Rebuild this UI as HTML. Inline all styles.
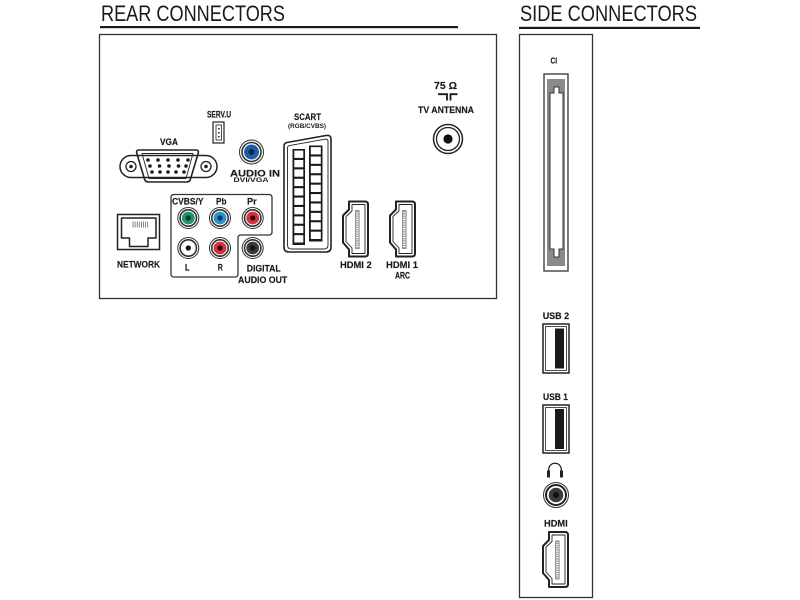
<!DOCTYPE html>
<html><head><meta charset="utf-8"><style>
html,body{margin:0;padding:0;background:#fff;width:800px;height:600px;overflow:hidden}
svg{display:block}
text{font-family:"Liberation Sans",sans-serif;fill:#1a1a1a}
.b{font-weight:bold;font-size:9.5px;stroke:#1a1a1a;stroke-width:0.15px}
.s{font-weight:bold;font-size:6.2px}
.o{fill:none;stroke:#222;stroke-linejoin:round}
</style></head><body>
<svg width="800" height="600" viewBox="0 0 800 600" xmlns="http://www.w3.org/2000/svg">
<defs>
<g id="hdmi">
  <path class="o" stroke-width="2" fill="#fff" d="M6,0 L22,0 Q25,0 25,3 L25,52 Q25,55 22,55 L6,55 L6,48 L0,41 L0,14 L6,8 Z"/>
  <path class="o" stroke-width="0.9" d="M9,3 L22,3 L22,52 L9,52 L9,46.5 L3,40 L3,15 L9,9.5 Z"/>
  <rect x="12.5" y="9" width="3.6" height="38" fill="#fff" stroke="#777" stroke-width="0.8"/>
  <line x1="14.3" y1="9.5" x2="14.3" y2="46.5" stroke="#888" stroke-width="3" stroke-dasharray="0.8 1"/>
</g>
</defs>

<!-- titles -->
<text x="101" y="21" font-size="22" textLength="184" lengthAdjust="spacingAndGlyphs">REAR CONNECTORS</text>
<rect x="100" y="26" width="358" height="2.2" fill="#1a1a1a"/>
<text x="520" y="21" font-size="22" textLength="177" lengthAdjust="spacingAndGlyphs">SIDE CONNECTORS</text>
<rect x="519" y="26.8" width="181" height="2.2" fill="#1a1a1a"/>

<!-- boxes -->
<rect x="99.5" y="34.5" width="397" height="264" fill="none" stroke="#333" stroke-width="1.3"/>
<rect x="519.5" y="34.5" width="73" height="563" fill="none" stroke="#333" stroke-width="1.3"/>

<!-- VGA -->
<text class="b" x="160" y="145" textLength="18" lengthAdjust="spacingAndGlyphs">VGA</text>
<rect x="120" y="155.5" width="97" height="22" rx="11" fill="#fff" stroke="#222" stroke-width="1.5"/>
<circle cx="131" cy="166.5" r="5" fill="#fff" stroke="#222" stroke-width="1.3"/>
<circle cx="131" cy="166.5" r="1.8" fill="#222"/>
<circle cx="206" cy="166.5" r="5" fill="#fff" stroke="#222" stroke-width="1.3"/>
<circle cx="206" cy="166.5" r="1.8" fill="#222"/>
<path class="o" fill="#fff" stroke-width="1.6" d="M139,150 L196,150 Q199,150 198.3,153 L190.5,179 Q189.7,182 186.5,182 L148.5,182 Q145.3,182 144.5,179 L136.7,153 Q136,150 139,150 Z"/>
<path class="o" stroke-width="0.9" d="M142,153.5 L193,153.5 L186,178.5 L149,178.5 Z"/>
<g fill="#1a1a1a">
<circle cx="148" cy="160" r="1.8"/><circle cx="158" cy="160" r="1.8"/><circle cx="168" cy="160" r="1.8"/><circle cx="178" cy="160" r="1.8"/><circle cx="188" cy="160" r="1.8"/>
<circle cx="150" cy="166" r="1.8"/><circle cx="159.5" cy="166" r="1.8"/><circle cx="169" cy="166" r="1.8"/><circle cx="178.5" cy="166" r="1.8"/><circle cx="186" cy="166" r="1.8"/>
<circle cx="152" cy="172" r="1.8"/><circle cx="160" cy="172" r="1.8"/><circle cx="168" cy="172" r="1.8"/><circle cx="176" cy="172" r="1.8"/><circle cx="184" cy="172" r="1.8"/>
</g>

<!-- SERV.U -->
<text class="b" x="207" y="117.5" textLength="24" lengthAdjust="spacingAndGlyphs">SERV.U</text>
<rect x="213" y="122" width="11" height="21" fill="#fff" stroke="#222" stroke-width="1.2"/>
<rect x="216" y="125" width="5.5" height="15" fill="none" stroke="#222" stroke-width="0.8"/>
<g fill="#222"><rect x="218" y="128" width="1.6" height="1.4"/><rect x="218" y="132" width="1.6" height="1.4"/><rect x="218" y="136" width="1.6" height="1.4"/></g>

<!-- AUDIO IN -->
<circle cx="251.5" cy="152" r="12" fill="#fff" stroke="#333" stroke-width="1"/>
<circle cx="251.5" cy="152" r="9.5" fill="#fff" stroke="#333" stroke-width="1.6"/>
<circle cx="251.5" cy="152" r="7.5" fill="#1d5ea8"/>
<circle cx="251.5" cy="152" r="3" fill="#0d2347"/>
<text class="b" x="230" y="176.6" textLength="50" lengthAdjust="spacingAndGlyphs">AUDIO IN</text>
<text class="s" x="233.5" y="182.2" textLength="35" lengthAdjust="spacingAndGlyphs">DVI/VGA</text>

<!-- SCART -->
<text class="b" x="294" y="120" textLength="27" lengthAdjust="spacingAndGlyphs">SCART</text>
<text class="s" x="288" y="128" textLength="38" lengthAdjust="spacingAndGlyphs">(RGB/CVBS)</text>
<path class="o" fill="#fff" stroke-width="1.6" d="M284,146 Q284,143 287,142.5 L326,135.5 Q331,134.7 331,139 L331,247 Q331,252 326,252 L289,252 Q284,252 284,247 Z"/>
<path class="o" stroke-width="0.9" d="M287.5,148 Q287.5,146 289.5,145.6 L325,139.2 Q328,138.7 328,141.5 L328,245 Q328,249 324,249 L291.5,249 Q287.5,249 287.5,245 Z"/>
<rect x="292.5" y="149" width="12.5" height="96" fill="#1a1a1a"/>
<rect x="309" y="145.5" width="13.5" height="96" fill="#1a1a1a"/>
<g fill="#fff">
<rect x="294.3" y="150.6" width="9" height="7.3"/><rect x="294.3" y="160" width="9" height="7.3"/><rect x="294.3" y="169.4" width="9" height="7.3"/><rect x="294.3" y="178.8" width="9" height="7.3"/><rect x="294.3" y="188.2" width="9" height="7.3"/><rect x="294.3" y="197.6" width="9" height="7.3"/><rect x="294.3" y="207" width="9" height="7.3"/><rect x="294.3" y="216.4" width="9" height="7.3"/><rect x="294.3" y="225.8" width="9" height="7.3"/><rect x="294.3" y="235.2" width="9" height="7.3"/>
<rect x="310.8" y="147.1" width="10" height="7.3"/><rect x="310.8" y="156.5" width="10" height="7.3"/><rect x="310.8" y="165.9" width="10" height="7.3"/><rect x="310.8" y="175.3" width="10" height="7.3"/><rect x="310.8" y="184.7" width="10" height="7.3"/><rect x="310.8" y="194.1" width="10" height="7.3"/><rect x="310.8" y="203.5" width="10" height="7.3"/><rect x="310.8" y="212.9" width="10" height="7.3"/><rect x="310.8" y="222.3" width="10" height="7.3"/><rect x="310.8" y="231.7" width="10" height="7.3"/>
</g>

<!-- HDMI 2 / HDMI 1 -->
<use href="#hdmi" transform="translate(343,201.5)"/>
<use href="#hdmi" transform="translate(390,201.5)"/>
<text class="b" x="340" y="268" textLength="31.7" lengthAdjust="spacingAndGlyphs">HDMI 2</text>
<text class="b" x="386" y="268" textLength="32" lengthAdjust="spacingAndGlyphs">HDMI 1</text>
<text class="b" x="395" y="278.3" textLength="15" lengthAdjust="spacingAndGlyphs">ARC</text>

<!-- TV ANTENNA -->
<text class="b" x="434" y="89" style="font-size:10.5px" textLength="23" lengthAdjust="spacingAndGlyphs">75 Ω</text>
<path d="M438,94.2 H447 V100.5 M457.5,94.2 H450.5 V100.5" fill="none" stroke="#1a1a1a" stroke-width="1.8"/>
<text class="b" x="418" y="113" textLength="56" lengthAdjust="spacingAndGlyphs">TV ANTENNA</text>
<circle cx="448" cy="139" r="14.5" fill="#fff" stroke="#222" stroke-width="1.5"/>
<circle cx="448" cy="139" r="11.5" fill="none" stroke="#222" stroke-width="1.3"/>
<circle cx="448" cy="139" r="4.6" fill="#111"/>

<!-- NETWORK -->
<rect x="117.5" y="214.5" width="42" height="35" fill="#fff" stroke="#222" stroke-width="1.5"/>
<path class="o" stroke-width="1.5" d="M121.5,218 L156,218 L156,238 L148,238 L148,246.5 L129.5,246.5 L129.5,238 L121.5,238 Z"/>
<g stroke="#666" stroke-width="0.8">
<line x1="133" y1="221.5" x2="133" y2="227.5"/><line x1="135.1" y1="221.5" x2="135.1" y2="227.5"/><line x1="137.2" y1="221.5" x2="137.2" y2="227.5"/><line x1="139.3" y1="221.5" x2="139.3" y2="227.5"/><line x1="141.4" y1="221.5" x2="141.4" y2="227.5"/><line x1="143.5" y1="221.5" x2="143.5" y2="227.5"/><line x1="145.6" y1="221.5" x2="145.6" y2="227.5"/><line x1="147.7" y1="221.5" x2="147.7" y2="227.5"/>
</g>
<text class="b" x="117" y="267.3" textLength="43" lengthAdjust="spacingAndGlyphs">NETWORK</text>

<!-- component group -->
<path fill="none" stroke="#333" stroke-width="1.3" d="M174,194.5 L269,194.5 Q272,194.5 272,197.5 L272,232 Q272,235 269,235 L241,235 Q238,235 238,238 L238,274 Q238,277 235,277 L174,277 Q171,277 171,274 L171,197.5 Q171,194.5 174,194.5 Z"/>
<text class="b" x="172" y="204.3" textLength="31.5" lengthAdjust="spacingAndGlyphs">CVBS/Y</text>
<text class="b" x="216" y="204.3" textLength="10.5" lengthAdjust="spacingAndGlyphs">Pb</text>
<text class="b" x="247" y="204.3" textLength="9.7" lengthAdjust="spacingAndGlyphs">Pr</text>
<g stroke="#333">
<circle cx="188.3" cy="218" r="10.5" fill="#fff" stroke-width="1"/><circle cx="188.3" cy="218" r="8.2" fill="#fff" stroke-width="1.6"/>
<circle cx="220" cy="218" r="10.5" fill="#fff" stroke-width="1"/><circle cx="220" cy="218" r="8.2" fill="#fff" stroke-width="1.6"/>
<circle cx="252.7" cy="218" r="10.5" fill="#fff" stroke-width="1"/><circle cx="252.7" cy="218" r="8.2" fill="#fff" stroke-width="1.6"/>
<circle cx="188.3" cy="248" r="10.5" fill="#fff" stroke-width="1"/><circle cx="188.3" cy="248" r="8.2" fill="#fff" stroke-width="1.6"/>
<circle cx="220" cy="248" r="10.5" fill="#fff" stroke-width="1"/><circle cx="220" cy="248" r="8.2" fill="#fff" stroke-width="1.6"/>
<circle cx="252.7" cy="248" r="10.5" fill="#fff" stroke-width="1"/><circle cx="252.7" cy="248" r="8.2" fill="#fff" stroke-width="1.6"/>
</g>
<circle cx="188.3" cy="218" r="6.4" fill="#1e9468"/><circle cx="188.3" cy="218" r="2.6" fill="#0d3b28"/>
<circle cx="220" cy="218" r="6.4" fill="#2b93c9"/><circle cx="220" cy="218" r="2.6" fill="#0d3550"/>
<circle cx="252.7" cy="218" r="6.4" fill="#d5313a"/><circle cx="252.7" cy="218" r="2.6" fill="#2a0a0a"/>
<circle cx="188.3" cy="248" r="6.4" fill="#fff"/><circle cx="188.3" cy="248" r="2.6" fill="#111"/>
<circle cx="220" cy="248" r="6.4" fill="#d5313a"/><circle cx="220" cy="248" r="2.6" fill="#2a0a0a"/>
<circle cx="252.7" cy="248" r="6.4" fill="#3a3a3a"/><circle cx="252.7" cy="248" r="2.6" fill="#111"/>
<text class="b" x="185" y="270.7" textLength="4.5" lengthAdjust="spacingAndGlyphs">L</text>
<text class="b" x="217.7" y="270.7" textLength="5" lengthAdjust="spacingAndGlyphs">R</text>
<text class="b" x="246.7" y="271.5" textLength="34" lengthAdjust="spacingAndGlyphs">DIGITAL</text>
<text class="b" x="238" y="283" textLength="49.3" lengthAdjust="spacingAndGlyphs">AUDIO OUT</text>

<!-- SIDE: CI -->
<text class="b" x="550.5" y="63.3" style="font-size:8px" textLength="6.5" lengthAdjust="spacingAndGlyphs">CI</text>
<rect x="544" y="74" width="24" height="197" fill="#fff" stroke="#333" stroke-width="1.3"/>
<rect x="547" y="79" width="18" height="187" fill="#8a8a8a"/>
<path fill="#fff" stroke="#333" stroke-width="1" d="M554,87 L559,87 L559,93 L563,93 L563,249 L559,249 L559,257 L554,257 L554,249 L550,249 L550,93 L554,93 Z"/>

<!-- USB 2 -->
<text class="b" x="542.7" y="319" textLength="26.5" lengthAdjust="spacingAndGlyphs">USB 2</text>
<rect x="543" y="324" width="26" height="49" fill="#fff" stroke="#222" stroke-width="1.5"/>
<rect x="545.5" y="326.5" width="21" height="44" fill="none" stroke="#222" stroke-width="0.8"/>
<rect x="555" y="328.5" width="9" height="40" fill="#1a1a1a"/>

<!-- USB 1 -->
<text class="b" x="543" y="400" textLength="25" lengthAdjust="spacingAndGlyphs">USB 1</text>
<rect x="543" y="405" width="26" height="48" fill="#fff" stroke="#222" stroke-width="1.5"/>
<rect x="545.5" y="407.5" width="21" height="43" fill="none" stroke="#222" stroke-width="0.8"/>
<rect x="555" y="409" width="9" height="40" fill="#1a1a1a"/>

<!-- headphone -->
<path d="M548.7,472 V469.5 A6.3,6.3 0 0 1 561.3,469.5 V472" fill="none" stroke="#222" stroke-width="1.3"/>
<rect x="547" y="470.5" width="3" height="7" fill="#222"/>
<rect x="560" y="470.5" width="3" height="7" fill="#222"/>
<circle cx="556" cy="495" r="12.5" fill="#fff" stroke="#333" stroke-width="1"/>
<circle cx="556" cy="495" r="10" fill="#fff" stroke="#222" stroke-width="2"/>
<circle cx="556" cy="495" r="7.3" fill="#3a3a3a"/>
<circle cx="556" cy="495" r="3" fill="#111"/>

<!-- side HDMI -->
<text class="b" x="544" y="526.7" textLength="23.7" lengthAdjust="spacingAndGlyphs">HDMI</text>
<use href="#hdmi" transform="translate(543,532)"/>
</svg>
</body></html>
